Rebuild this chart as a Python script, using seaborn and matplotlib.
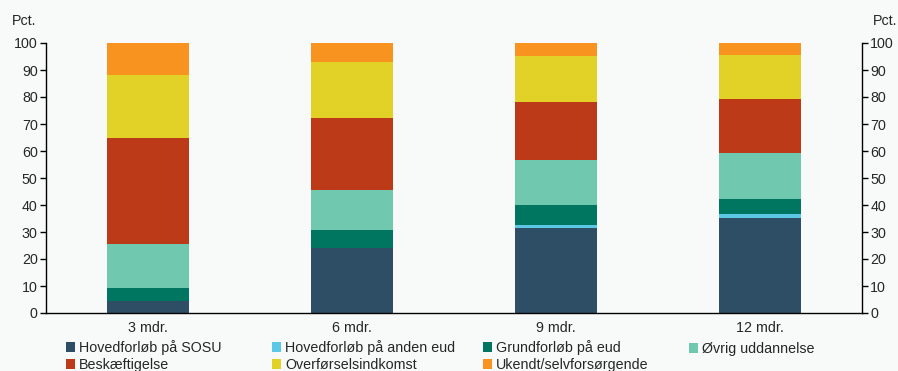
import numpy as np
import pandas as pd
import seaborn as sns
import matplotlib.pyplot as plt
from matplotlib.patches import Patch

# Kategorier og andele (pct.)
perioder = ['3 mdr.', '6 mdr.', '9 mdr.', '12 mdr.']
serier = ['Hovedforløb på SOSU', 'Hovedforløb på anden eud', 'Grundforløb på eud',
          'Øvrig uddannelse', 'Beskæftigelse', 'Overførselsindkomst', 'Ukendt/selvforsørgende']
sosu = [4.4, 24.0, 31.6, 35.3]
anden_eud = [0.1, 0.2, 0.9, 1.3]
grundforloeb = [4.6, 6.4, 7.4, 5.6]
oevrig = [16.4, 15.1, 16.9, 17.1]
beskaeftigelse = [39.4, 26.5, 21.5, 20.1]
overfoersel = [23.3, 20.6, 16.9, 16.0]
ukendt = [11.8, 7.2, 4.8, 4.6]
farver = ['#2E4E66', '#5CC8E6', '#007560', '#70C8AE', '#BD3A18', '#E2D228', '#F7931E']

bg = '#F8FAFA'
fs = 10.3
sns.set_theme(style='white')
plt.rcParams['font.family'] = ['Liberation Sans', 'DejaVu Sans']

df = pd.DataFrame({'periode': perioder, serier[0]: sosu, serier[1]: anden_eud,
                   serier[2]: grundforloeb, serier[3]: oevrig, serier[4]: beskaeftigelse,
                   serier[5]: overfoersel, serier[6]: ukendt})
kum = df[serier].cumsum(axis=1)

fig = plt.figure(figsize=(8.98, 3.71), dpi=100, facecolor=bg)
ax = fig.add_axes([46 / 898, 1 - 313 / 371, 816 / 898, 270 / 371])
ax.set_facecolor(bg)

# stablede søjler: tegn kumulerede summer oppefra og ned
for i in reversed(range(len(serier))):
    sns.barplot(x=df['periode'], y=kum[serier[i]], color=farver[i], width=0.4,
                saturation=1, linewidth=0, ax=ax)

ax.set_ylim(0, 100)
ax.set_xlim(-0.5, 3.5)
ax.set_yticks(range(0, 101, 10))
ax.set_xlabel('')
ax.set_ylabel('')
ax.set_xticks([0.5, 1.5, 2.5], minor=False)
ax.set_xticklabels([])
ax.set_xticks(range(4), minor=True)
ax.set_xticklabels(perioder, minor=True)
ax.tick_params(axis='x', which='major', length=4, width=1, color='black', direction='out')
ax.tick_params(axis='x', which='minor', length=0, labelsize=fs, pad=6)
ax.tick_params(axis='y', length=4, width=1, color='black', direction='out', labelsize=fs, pad=2)
for s in ['top', 'right']:
    ax.spines[s].set_visible(False)
for s in ['left', 'bottom']:
    ax.spines[s].set_color('black')
    ax.spines[s].set_linewidth(1)

ax2 = ax.twinx()
ax2.set_ylim(0, 100)
ax2.set_yticks(range(0, 101, 10))
ax2.tick_params(axis='y', length=4, width=1, color='black', direction='out', labelsize=fs, pad=2)
for s in ['top', 'left', 'bottom']:
    ax2.spines[s].set_visible(False)
ax2.spines['right'].set_color('black')
ax2.spines['right'].set_linewidth(1)

fig.text(12 / 898, 1 - 21 / 371, 'Pct.', fontsize=fs, va='center', ha='left')
fig.text(873 / 898, 1 - 21 / 371, 'Pct.', fontsize=fs, va='center', ha='left')

# legende: én lille legende pr. kolonne, så kolonnerne står med fast afstand
kolonner = [[0, 4], [1, 5], [2, 6], [3]]
kol_x = [66, 272, 483, 689]
kol_y = [340, 340, 340, 342]
for idx, x0, y0 in zip(kolonner, kol_x, kol_y):
    handles = [Patch(facecolor=farver[i], edgecolor='none') for i in idx]
    labels = [serier[i] for i in idx]
    fig.legend(handles, labels, loc='upper left', bbox_to_anchor=(x0 / 898, 1 - y0 / 371),
               frameon=False, fontsize=fs, handlelength=0.65, handleheight=0.65,
               handletextpad=0.25, labelspacing=0.2, borderpad=0, borderaxespad=0)

fig.savefig('out.png', dpi=100, facecolor=bg)
